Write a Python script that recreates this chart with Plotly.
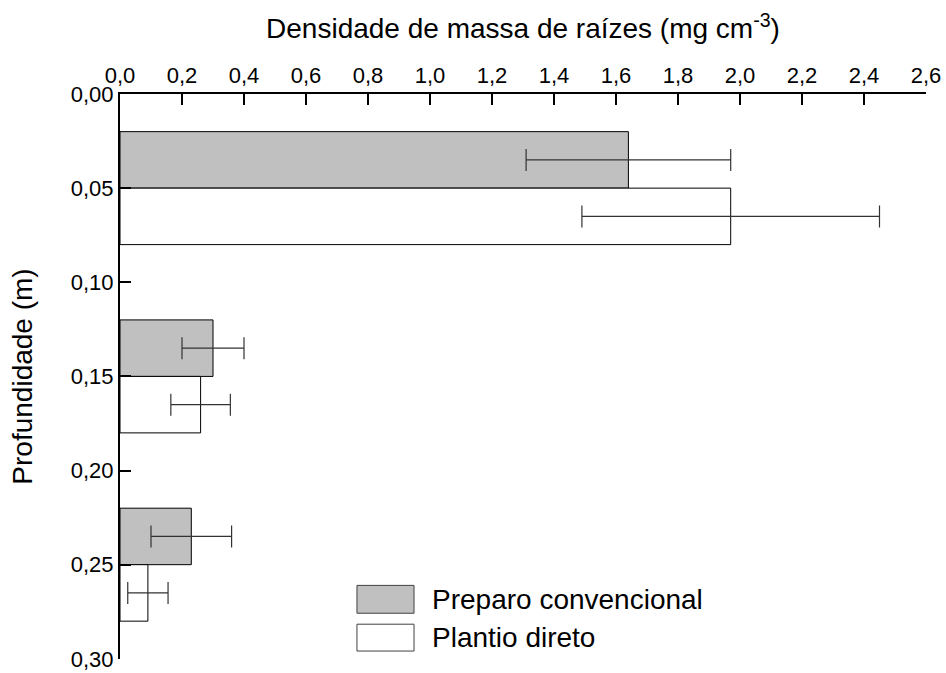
import plotly.graph_objects as go

# Data
layer_depth = [0.05, 0.15, 0.25]          # layer midpoints (m)
series_names = ["Preparo convencional", "Plantio direto"]
pc_values = [1.64, 0.30, 0.23]
pc_errors = [0.33, 0.10, 0.13]
pd_values = [1.97, 0.26, 0.09]
pd_errors = [0.48, 0.096, 0.065]
x_ticks = [0.0, 0.2, 0.4, 0.6, 0.8, 1.0, 1.2, 1.4, 1.6, 1.8, 2.0, 2.2, 2.4, 2.6]
y_ticks = [0.00, 0.05, 0.10, 0.15, 0.20, 0.25, 0.30]

FONT = "Arial, Liberation Sans, sans-serif"
fills = ["#c0c0c0", "#ffffff"]

fig = go.Figure()
for name, vals, errs, fill in zip(series_names, [pc_values, pd_values], [pc_errors, pd_errors], fills):
    fig.add_trace(go.Bar(
        name=name, orientation="h", y=layer_depth, x=vals,
        marker=dict(color=fill, line=dict(color="#000000", width=1)),
        error_x=dict(type="data", array=errs, symmetric=True,
                     color="#333333", thickness=1.2, width=11),
        showlegend=False,
    ))

fig.update_layout(
    width=946, height=673,
    margin=dict(l=120, r=20, t=94, b=14),
    paper_bgcolor="white", plot_bgcolor="white",
    barmode="group", bargap=0.4, bargroupgap=0,
    separators=",.",
    font=dict(family=FONT, size=22, color="#000000"),
    xaxis=dict(
        side="top", range=[0, 2.6], tickvals=x_ticks, tickformat=".1f",
        ticks="inside", ticklen=11, tickwidth=2, tickcolor="#000",
        showline=True, linewidth=2, linecolor="#000", showgrid=False, zeroline=False,
        tickfont=dict(size=22), ticklabeloverflow="allow", automargin=False,
        title=dict(text="Densidade de massa de raízes (mg cm<sup>-3</sup>)",
                   font=dict(size=28), standoff=16),
    ),
    yaxis=dict(
        range=[0.3001, 0.0], tickvals=y_ticks, tickformat=".2f",
        ticks="inside", ticklen=11, tickwidth=2, tickcolor="#000",
        showline=True, linewidth=2, linecolor="#000", showgrid=False, zeroline=False,
        tickfont=dict(size=22), ticklabeloverflow="allow", automargin=False,
        title=dict(text="Profundidade (m)", font=dict(size=28), standoff=30),
    ),
)

# Manual legend with large swatches
legend_rows = [(0.1303, 0.081), (0.0616, 0.0141)]
for name, fill, (y1, y0) in zip(series_names, fills, legend_rows):
    fig.add_shape(type="rect", xref="paper", yref="paper",
                  x0=0.294, x1=0.3648, y0=y0, y1=y1,
                  fillcolor=fill, line=dict(color="#404040", width=1))
    fig.add_annotation(xref="paper", yref="paper", x=0.385, y=(y0 + y1) / 2,
                       text=name, showarrow=False, xanchor="left", yanchor="middle",
                       font=dict(family=FONT, size=28, color="#000"))

fig.write_html("out.html")
